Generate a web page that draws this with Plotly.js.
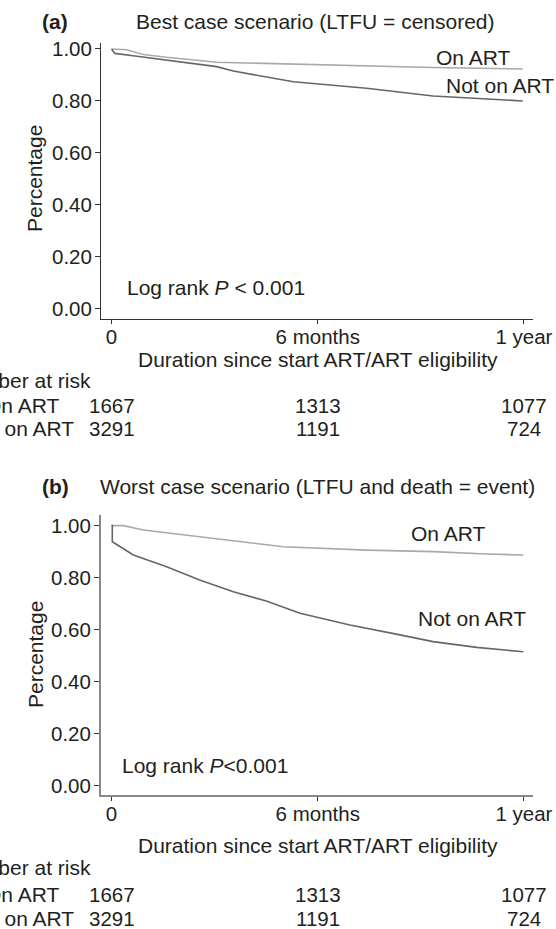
<!DOCTYPE html>
<html>
<head>
<meta charset="utf-8">
<script src="https://cdn.plot.ly/plotly-3.0.1.min.js"></script>
<style>
html,body{margin:0;padding:0;overflow:hidden;background:#fff;}
#chart{width:556px;height:929px;}
</style>
</head>
<body>
<div id="chart"></div>
<script>
// ---- Data (time in days since start ART / ART eligibility) ----
const daysA_on   = [0, 13.5, 28.1, 48.8, 93, 166.8, 225.8, 284.5, 364];
const survA_on   = [1.0, 0.997, 0.979, 0.968, 0.949, 0.941, 0.936, 0.929, 0.923];
const daysA_not  = [0, 2.9, 19.1, 48.8, 93, 107.8, 160.9, 225.8, 284.5, 364];
const survA_not  = [1.0, 0.983, 0.974, 0.958, 0.932, 0.915, 0.874, 0.849, 0.819, 0.80];

const daysB_on   = [0, 10.5, 28.2, 78.3, 152, 225.8, 284.8, 332, 364.4];
const survB_on   = [1.0, 1.0, 0.983, 0.958, 0.919, 0.906, 0.90, 0.891, 0.887];
const daysB_not  = [0, 0.7, 0.7, 7.5, 19.3, 48.8, 78, 107.8, 137, 166.8, 211, 255.3, 284.5, 323.2, 364.4];
const survB_not  = [1.0, 1.0, 0.938, 0.919, 0.887, 0.842, 0.791, 0.746, 0.71, 0.663, 0.618, 0.580, 0.554, 0.532, 0.515];

const xTickVals  = [0, 182.5, 365];
const xTickText  = ['0', '6 months', '1 year'];
const yTickVals  = [0, 0.2, 0.4, 0.6, 0.8, 1.0];
const yTickText  = ['0.00', '0.20', '0.40', '0.60', '0.80', '1.00'];

const riskTimes  = [0, 182.5, 365];
const riskA_on   = [1667, 1313, 1077];
const riskA_not  = [3291, 1191, 724];
const riskB_on   = [1667, 1313, 1077];
const riskB_not  = [3291, 1191, 724];

const titleA = 'Best case scenario (LTFU = censored)';
const titleB = 'Worst case scenario (LTFU and death = event)';
const xTitle = 'Duration since start ART/ART eligibility';
const yTitle = 'Percentage';

// ---- Layout helpers ----
const W = 556, H = 929;
const FONT = 'Liberation Sans, Arial, Helvetica, sans-serif';
const TXT = '#231f20';
const px = x => x / W;
const py = y => 1 - y / H;

const lightGray = '#a9a9a9';
const darkGray = '#666666';

const traces = [
  {x: daysA_on,  y: survA_on,  xaxis: 'x',  yaxis: 'y',  mode: 'lines', line: {color: lightGray, width: 1.6}, name: 'On ART'},
  {x: daysA_not, y: survA_not, xaxis: 'x',  yaxis: 'y',  mode: 'lines', line: {color: darkGray,  width: 1.6}, name: 'Not on ART'},
  {x: daysB_on,  y: survB_on,  xaxis: 'x2', yaxis: 'y2', mode: 'lines', line: {color: lightGray, width: 1.6}, name: 'On ART'},
  {x: daysB_not, y: survB_not, xaxis: 'x2', yaxis: 'y2', mode: 'lines', line: {color: darkGray,  width: 1.6}, name: 'Not on ART'}
];

function xAxis(anchor, lineColor, lineWidth) {
  return {
    domain: [101 / W, 533 / W], anchor: anchor,
    range: [-9.3, 373], showgrid: false, zeroline: false,
    showline: true, linecolor: lineColor, linewidth: lineWidth,
    ticks: 'outside', ticklen: 4, tickwidth: 1, tickcolor: '#333',
    ticklabelstandoff: -5,
    tickvals: xTickVals, ticktext: xTickText,
    tickfont: {family: FONT, size: 20.5, color: TXT}
  };
}
function yAxis(anchor, dom, rng, lineColor, lineWidth) {
  return {
    domain: dom, anchor: anchor, range: rng,
    showgrid: false, zeroline: false,
    showline: true, linecolor: lineColor, linewidth: lineWidth,
    ticks: 'outside', ticklen: 5, tickwidth: 1, tickcolor: '#333',
    ticklabelstandoff: -1,
    tickvals: yTickVals, ticktext: yTickText,
    tickfont: {family: FONT, size: 20.5, color: TXT}
  };
}

function txt(text, x, y, anchor, extra) {
  return Object.assign({
    text: text, xref: 'paper', yref: 'paper', x: px(x), y: py(y),
    xanchor: anchor, yanchor: 'middle', showarrow: false,
    font: {family: FONT, size: 21, color: TXT}
  }, extra || {});
}
function risk(vals, axis, y) {
  return vals.map((v, i) => ({
    text: String(v), xref: axis, yref: 'paper', x: riskTimes[i], y: py(y),
    xanchor: 'center', yanchor: 'middle', showarrow: false,
    font: {family: FONT, size: 20.5, color: TXT}
  }));
}

const annotations = [
  // Panel (a)
  txt('<b>(a)</b>', 55, 21, 'center'),
  txt(titleA, 315, 21, 'center'),
  txt('On ART', 512, 57, 'right'),
  txt('Not on ART', 556, 86, 'right'),
  txt('Log rank <i>P</i> < 0.001', 125, 288, 'left'),
  txt(yTitle, 35, 179, 'center', {textangle: -90}),
  txt(xTitle, 318, 360, 'center'),
  txt('Number at risk', -48, 380, 'left'),
  txt('On ART', -17, 405, 'left'),
  txt('Not on ART', -36, 428, 'left'),
  ...risk(riskA_on, 'x', 405),
  ...risk(riskA_not, 'x', 428),
  // Panel (b)
  txt('<b>(b)</b>', 55, 486, 'center'),
  txt(titleB, 317, 486, 'center'),
  txt('On ART', 487, 533, 'right'),
  txt('Not on ART', 528, 618, 'right'),
  txt('Log rank <i>P</i><0.001', 120, 765, 'left'),
  txt(yTitle, 35, 655, 'center', {textangle: -90}),
  txt(xTitle, 318, 845, 'center'),
  txt('Number at risk', -48, 867, 'left'),
  txt('On ART', -17, 894, 'left'),
  txt('Not on ART', -36, 918, 'left'),
  ...risk(riskB_on, 'x2', 894),
  ...risk(riskB_not, 'x2', 918)
];

const layout = {
  width: W, height: H,
  margin: {l: 0, r: 0, t: 0, b: 0},
  paper_bgcolor: '#ffffff', plot_bgcolor: '#ffffff',
  showlegend: false,
  font: {family: FONT, color: TXT},
  xaxis: xAxis('y', '#333', 1),
  yaxis: yAxis('x', [1 - 319 / H, 1 - 43 / H], [-0.0385, 1.023], '#333', 1),
  xaxis2: xAxis('y2', '#888', 2),
  yaxis2: yAxis('x2', [1 - 795 / H, 1 - 515 / H], [-0.0358, 1.041], '#888', 2),
  annotations: annotations
};

Plotly.newPlot('chart', traces, layout, {staticPlot: true, displayModeBar: false});
</script>
</body>
</html>
